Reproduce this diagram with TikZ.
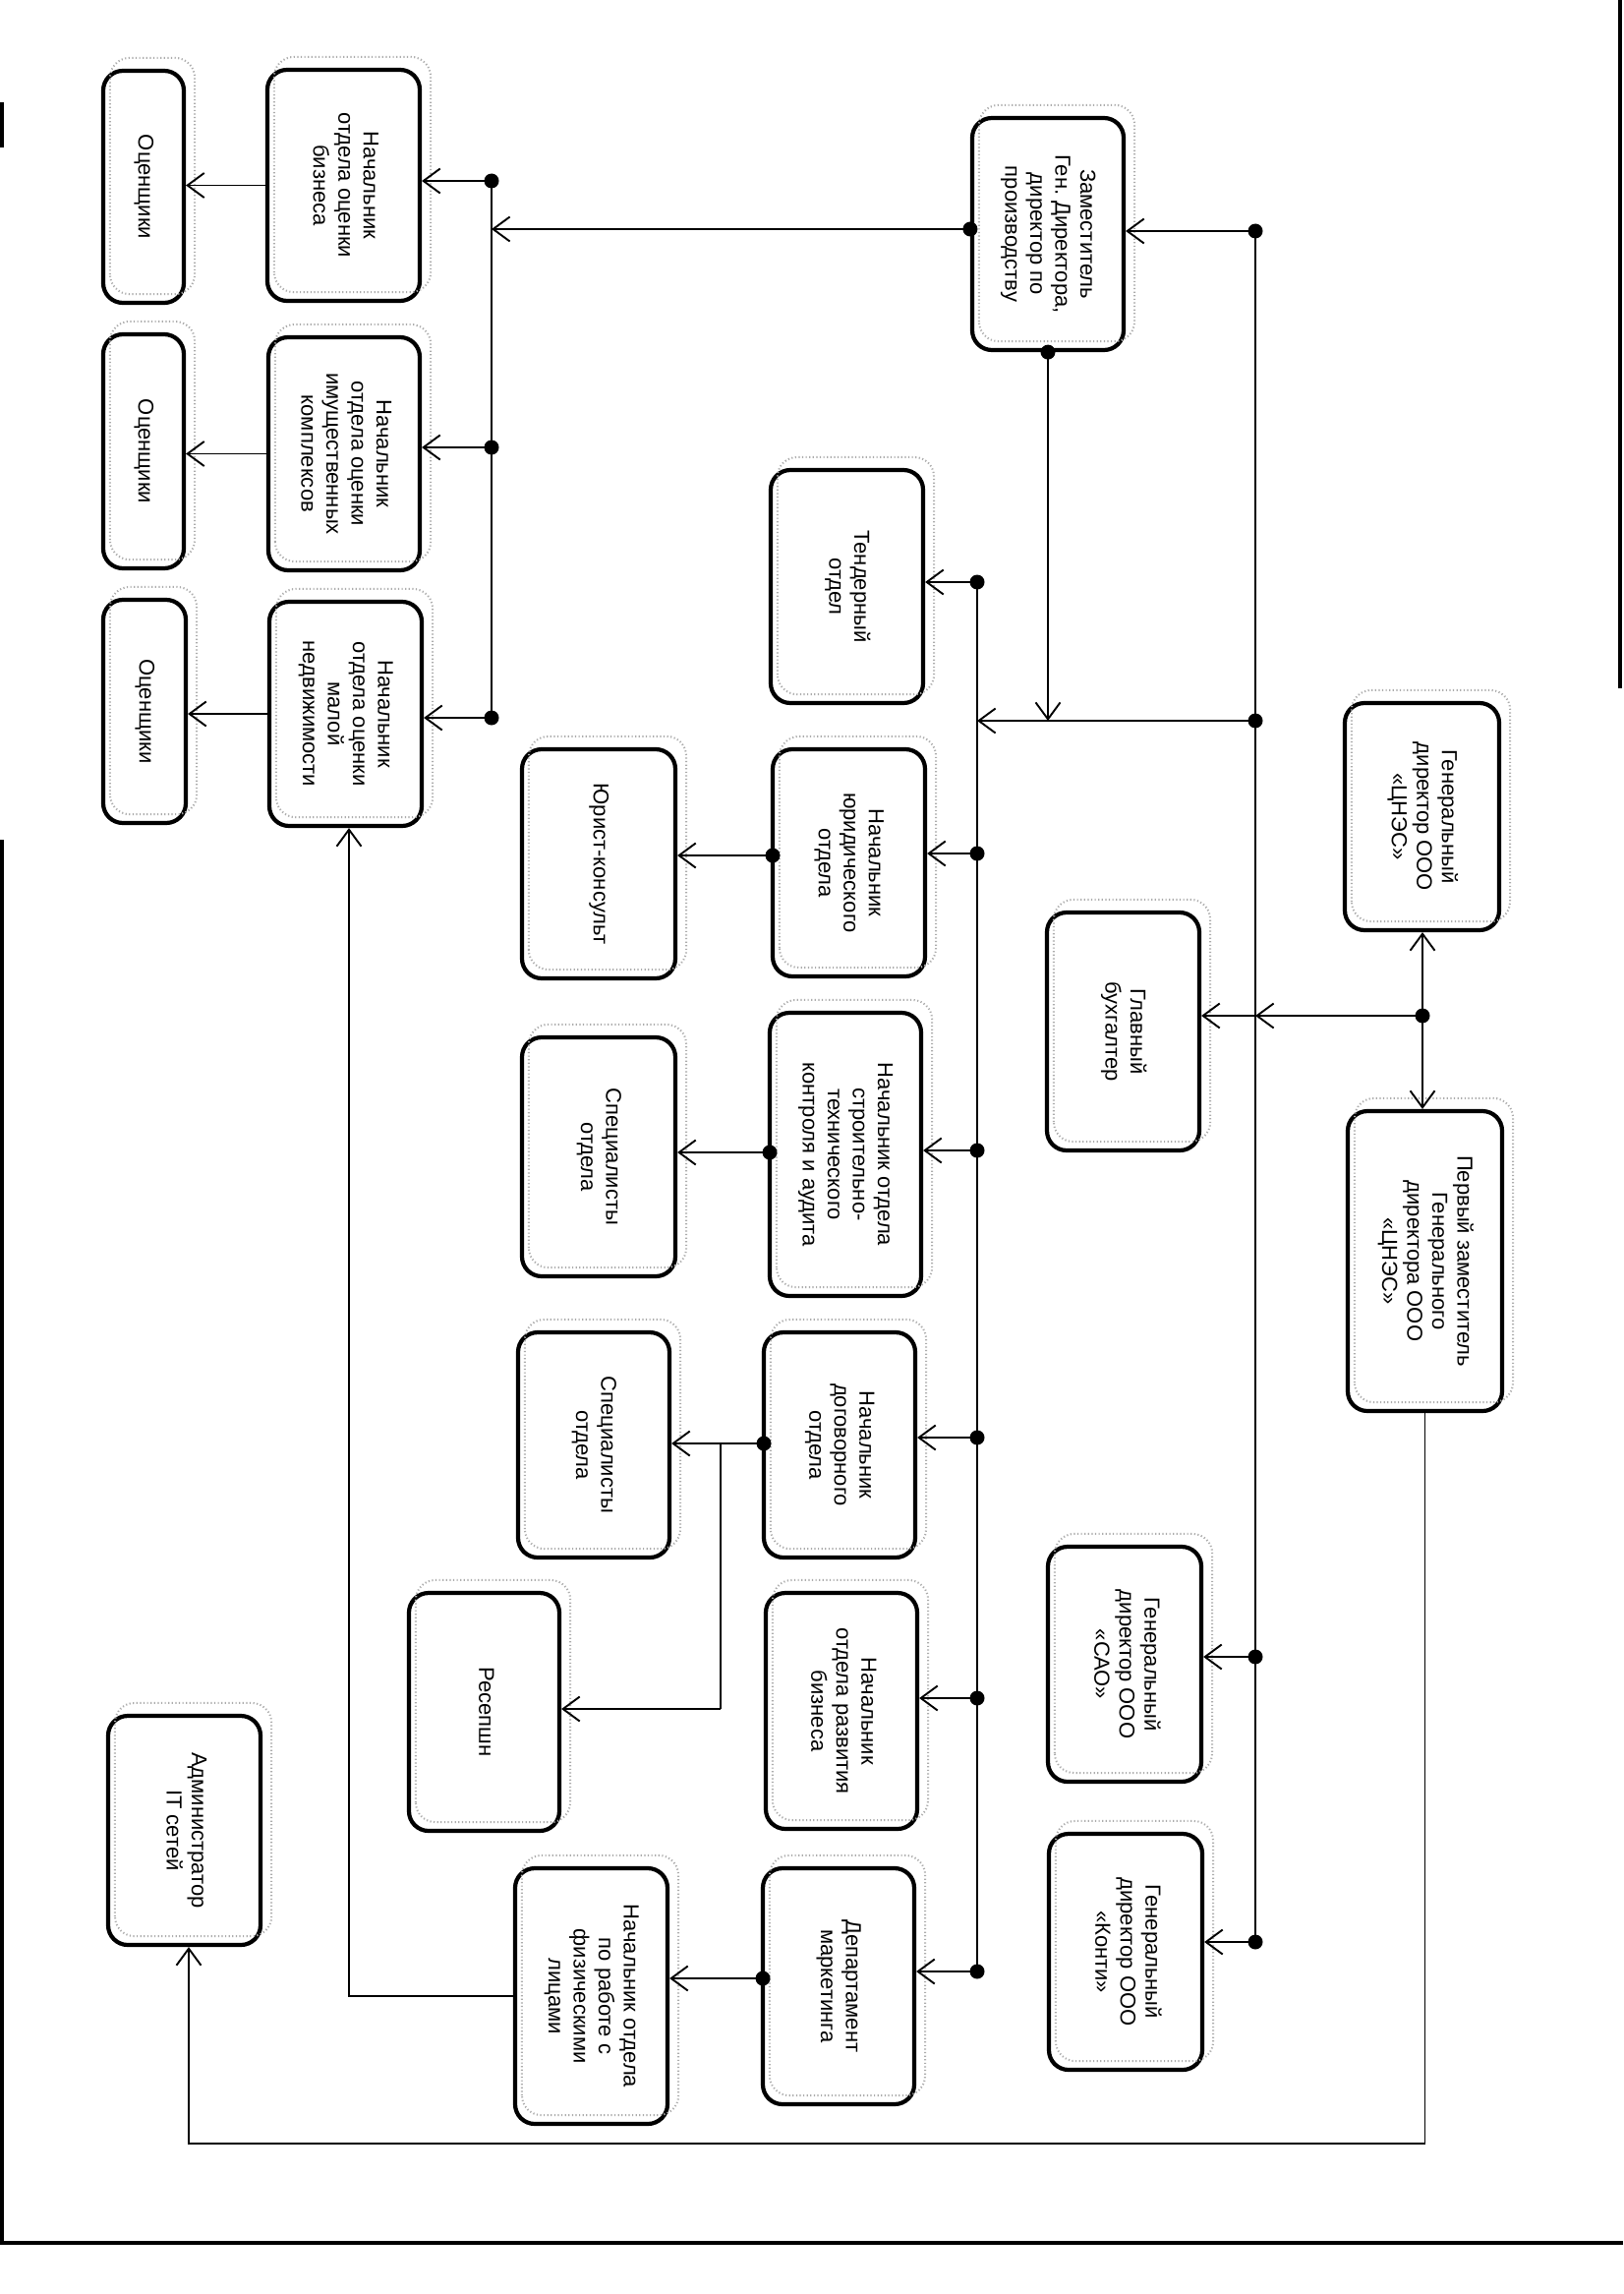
\documentclass[tikz,border=0pt]{standalone}
\usepackage{graphicx}
\usepackage{fontspec}
\setmainfont{Liberation Sans}
\usetikzlibrary{arrows.meta,calc}
\frenchspacing
\newcommand{\rt}[1]{\rotatebox[origin=c]{-90}{\begin{tabular}{@{}c@{}}#1\end{tabular}}}
\newcommand{\bx}[6]{%
  \node[box, minimum width={(#3-#2)*1pt}, minimum height={(#5-#4)*1pt}] (#1) at ({(#2+#3)/2},{(#4+#5)/2}) {\rt{#6}};
  \draw[shadowln] ($(#1.south west)+(9,-11)$) rectangle ($(#1.north east)+(9,-11)$);
}
\begin{document}
\begin{tikzpicture}[x=1pt,y=-1pt,
  box/.style={draw, line width=4.2pt, rounded corners=20pt, inner sep=0pt, font=\fontsize{22}{25.5}\selectfont},
  dot/.style={circle, fill, inner sep=0pt, minimum size=15pt},
  arr/.style={line width=1.8pt, -{Straight Barb[length=17pt,width=25pt,line width=1.9pt]}},
  ln/.style={line width=1.8pt},
  shadowln/.style={gray!65, line width=2pt, dash pattern=on 1.2pt off 2.4pt, rounded corners=20pt},
  border/.style={line width=4pt}
]
\useasboundingbox (0,0) rectangle (1651,2333);
\fill[white] (0,0) rectangle (1651,2333);

% boxes
\bx{ocen1}{105}{187}{72}{308}{Оценщики}
\bx{obiz}{272}{427}{71}{306}{Начальник\\ отдела оценки\\ бизнеса}
\bx{ocen2}{105}{187}{340}{578}{Оценщики}
\bx{oimu}{273}{427}{343}{580}{Начальник\\ отдела оценки\\ имущественных\\ комплексов}
\bx{ocen3}{105}{189}{610}{837}{Оценщики}
\bx{omal}{274}{429}{612}{840}{Начальник\\ отдела оценки\\ малой\\ недвижимости}
\bx{zam}{989}{1143}{120}{356}{Заместитель\\ Ген. Директора,\\ директор по\\ производству}
\bx{tend}{784}{939}{478}{715}{Тендерный\\ отдел}
\bx{yurk}{531}{687}{762}{995}{Юрист-консульт}
\bx{yurn}{786}{941}{762}{993}{Начальник\\ юридического\\ отдела}
\bx{spec1}{531}{687}{1055}{1298}{Специалисты\\ отдела}
\bx{stroi}{783}{937}{1030}{1318}{Начальник отдела\\ строительно-\\ технического\\ контроля и аудита}
\bx{spec2}{527}{681}{1355}{1584}{Специалисты\\ отдела}
\bx{dogov}{777}{931}{1355}{1584}{Начальник\\ договорного\\ отдела}
\bx{recep}{416}{569}{1620}{1862}{Ресепшн}
\bx{razv}{779}{933}{1620}{1860}{Начальник\\ отдела развития\\ бизнеса}
\bx{admin}{110}{265}{1745}{1978}{Администратор\\ IT сетей}
\bx{fiz}{524}{679}{1900}{2160}{Начальник отдела\\ по работе с\\ физическими\\ лицами}
\bx{mark}{776}{930}{1900}{2140}{Департамент\\ маркетинга}
\bx{gbuh}{1065}{1220}{928}{1170}{Главный\\ бухгалтер}
\bx{cnes}{1368}{1525}{715}{946}{Генеральный\\ директор ООО\\ «ЦНЭС»}
\bx{perv}{1371}{1528}{1130}{1435}{Первый заместитель\\ Генерального\\ директора ООО\\ «ЦНЭС»}
\bx{sao}{1066}{1222}{1573}{1812}{Генеральный\\ директор ООО\\ «САО»}
\bx{konti}{1067}{1223}{1865}{2105}{Генеральный\\ директор ООО\\ «Конти»}

% left bus (evaluation departments)
\node[dot] (b1) at (500,184) {};
\node[dot] (b2) at (500,455) {};
\node[dot] (b3) at (500,730) {};
\draw[ln] (b1.center) -- (b3.center);
\draw[arr] (b1.center) -- (b1 -| obiz.east);
\draw[arr] (b2.center) -- (b2 -| oimu.east);
\draw[arr] (b3.center) -- (b3 -| omal.east);
\draw[arr] (obiz.west) -- (obiz.west -| ocen1.east);
\draw[arr] (oimu.west) -- (oimu.west -| ocen2.east);
\draw[arr] (omal.west) -- (omal.west -| ocen3.east);

% deputy director
\node[dot] (z1) at ($(zam.west)+(0,-5)$) {};
\node[dot] (z2) at (zam.south) {};
\draw[arr] (z1.center) -- (z1 -| b1);

% right bus
\node[dot] (r0) at (1277,235) {};
\node[dot] (r1) at (1277,733) {};
\node[dot] (r4) at (1277,1685) {};
\node[dot] (r5) at (1277,1975) {};
\draw[ln] (r0.center) -- (r5.center);
\draw[arr] (r0.center) -- (r0 -| zam.east);
\draw[arr] (r4.center) -- (r4 -| sao.east);
\draw[arr] (r5.center) -- (r5 -| konti.east);

% middle bus
\node[dot] (t1) at (994,592) {};
\node[dot] (t2) at (994,868) {};
\node[dot] (t3) at (994,1170) {};
\node[dot] (t4) at (994,1462) {};
\node[dot] (t5) at (994,1727) {};
\node[dot] (t6) at (994,2005) {};
\draw[ln] (t1.center) -- (t6.center);
\draw[arr] (r1.center) -- (r1 -| t1);
\draw[arr] (z2.center) -- (z2 |- r1);
\draw[arr] (t1.center) -- (t1 -| tend.east);
\draw[arr] (t2.center) -- (t2 -| yurn.east);
\draw[arr] (t3.center) -- (t3 -| stroi.east);
\draw[arr] (t4.center) -- (t4 -| dogov.east);
\draw[arr] (t5.center) -- (t5 -| razv.east);
\draw[arr] (t6.center) -- (t6 -| mark.east);

% subordinate links
\node[dot] (l2) at (786,870) {};
\node[dot] (l3) at (783,1172) {};
\node[dot] (l4) at (777,1468) {};
\node[dot] (l6) at (776,2012) {};
\draw[arr] (l2.center) -- (l2 -| yurk.east);
\draw[arr] (l3.center) -- (l3 -| spec1.east);
\draw[arr] (l4.center) -- (l4 -| spec2.east);
\draw[arr] (l6.center) -- (l6 -| fiz.east);
\coordinate (k1) at (733,1468);
\coordinate (k2) at (733,1738);
\draw[ln] (k1) -- (k2);
\draw[arr] (k2) -- (k2 -| recep.east);

% general director
\node[dot] (c1) at (1447,1033) {};
\draw[arr] (c1.center) -- (c1 |- cnes.south);
\draw[arr] (c1.center) -- (c1 |- perv.north);
\draw[arr] (c1.center) -- (c1 -| r0);
\draw[arr] (c1 -| r0) -- (c1 -| gbuh.east);

% first deputy to IT admin
\coordinate (q1) at (192,2180);
\draw[arr] (perv.south) |- (q1) -- (q1 |- admin.south);

% individuals dept to small real estate
\coordinate (f1) at (355,2030);
\draw[arr] (f1 -| fiz.west) -- (f1) -- (f1 |- omal.south);

% page edges of the scan
\draw[border] (2,854) -- (2,2281) -- (1651,2281);
\draw[border] (2,104) -- (2,150);
\draw[border] (1648,0) -- (1648,700);
\end{tikzpicture}
\end{document}
